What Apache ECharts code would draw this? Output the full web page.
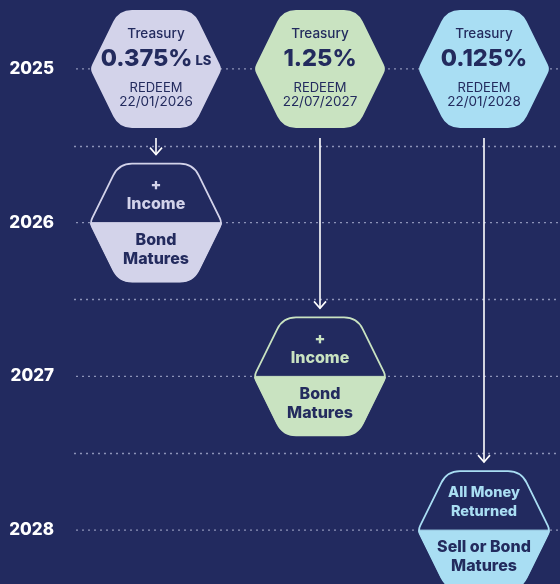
<!DOCTYPE html>
<html>
<head>
<meta charset="utf-8">
<script src="https://cdn.jsdelivr.net/npm/echarts@6/dist/echarts.min.js"></script>
<style>
html, body { margin: 0; padding: 0; background: #222a5f; }
#chart { width: 560px; height: 584px; }
</style>
</head>
<body>
<div id="chart"></div>
<script>
// timeline rows
var years = ['2025', '2026', '2027', '2028'];
var issueYear = '2025';
// one column per gilt
var issuer = ['Treasury', 'Treasury', 'Treasury'];
var rates = ['0.375%', '1.25%', '0.125%'];
var rateTags = ['LS', '', ''];
var redeemDates = ['22/01/2026', '22/07/2027', '22/01/2028'];
var maturityYears = ['2026', '2027', '2028'];
var outcomeTop = ['+\nIncome', '+\nIncome', 'All Money\nReturned'];
var outcomeBottom = ['Bond\nMatures', 'Bond\nMatures', 'Sell or Bond\nMatures'];

var bondColors = ['#d3d3ea', '#c9e3c1', '#a9def3'];
var NAVY = '#222a5f';
var INK = '#232b5e';
var FONT = 'Inter, "Noto Sans", sans-serif';

function toward(p, q, r) {
    var dx = q[0] - p[0], dy = q[1] - p[1];
    var len = Math.sqrt(dx * dx + dy * dy);
    return [p[0] + dx / len * r, p[1] + dy / len * r];
}

function roundPath(pts, radii) {
    var n = pts.length, d = '';
    for (var i = 0; i < n; i++) {
        var p = pts[i], prev = pts[(i + n - 1) % n], next = pts[(i + 1) % n];
        var a = toward(p, prev, radii[i]), b = toward(p, next, radii[i]);
        d += (i === 0 ? 'M' : 'L') + a[0] + ' ' + a[1] + ' Q' + p[0] + ' ' + p[1] + ' ' + b[0] + ' ' + b[1] + ' ';
    }
    return d + 'Z';
}

function hexPts(cx, cy) {
    return [[cx - 66, cy], [cx - 37, cy - 59], [cx + 37, cy - 59],
            [cx + 66, cy], [cx + 37, cy + 59], [cx - 37, cy + 59]];
}

function txt(x, y, text, fill, size, weight, lh) {
    return {
        type: 'text', x: x, y: y,
        style: {
            text: text, fill: fill, fontSize: size, fontWeight: weight, fontFamily: FONT,
            lineHeight: lh || size + 2, align: 'center', verticalAlign: 'middle'
        }
    };
}

function renderIssue(params, api) {
    var i = api.value(0);
    var c = api.coord([i, api.value(1)]);
    var cx = c[0], cy = c[1];
    var col = bondColors[i];
    var tag = rateTags[i] ? '{s| ' + rateTags[i] + '}' : '';
    return {
        type: 'group',
        children: [
            { type: 'path', shape: { pathData: roundPath(hexPts(cx, cy), [5, 13, 13, 5, 13, 13]) },
              style: { fill: col } },
            txt(cx, cy - 35, issuer[i], INK, 13.5, 500),
            {
                type: 'text', x: cx, y: cy - 10,
                style: {
                    text: '{p|' + rates[i] + '}' + tag,
                    align: 'center', verticalAlign: 'middle',
                    rich: {
                        p: { fontSize: 23.5, fontWeight: 800, fontFamily: FONT, fill: INK },
                        s: { fontSize: 13, fontWeight: 800, fontFamily: FONT, fill: INK, padding: [5, 0, 0, 0] }
                    }
                }
            },
            txt(cx, cy + 19, 'REDEEM', INK, 13, 400),
            txt(cx, cy + 33, redeemDates[i], INK, 13.5, 400)
        ]
    };
}

function renderMaturity(params, api) {
    var i = api.value(0);
    var c = api.coord([i, api.value(1)]);
    var cx = c[0], cy = c[1];
    var col = bondColors[i];
    var half = [[cx - 66, cy], [cx + 66, cy], [cx + 37, cy + 59], [cx - 37, cy + 59]];
    var topSize = outcomeTop[i].length > 10 ? 14.5 : 16;
    return {
        type: 'group',
        children: [
            { type: 'path', shape: { pathData: roundPath(hexPts(cx, cy), [5, 13, 13, 5, 13, 13]) },
              style: { fill: NAVY, stroke: col, lineWidth: 1.8 } },
            { type: 'path', shape: { pathData: roundPath(half, [2, 2, 13, 13]) },
              style: { fill: col, stroke: col, lineWidth: 1 } },
            txt(cx, cy - 28, outcomeTop[i], col, topSize, 800, 19),
            txt(cx, cy + 27, outcomeBottom[i], INK, 16, 800, 19)
        ]
    };
}

function renderArrow(params, api) {
    var i = api.value(0);
    var a = api.coord([i, api.value(1)]);
    var b = api.coord([i, api.value(2)]);
    var x = a[0], y1 = a[1] + 69, y2 = b[1] - 68;
    var st = { stroke: '#ffffff', lineWidth: 1.6, fill: 'none' };
    return {
        type: 'group',
        children: [
            { type: 'line', shape: { x1: x, y1: y1, x2: x, y2: y2 }, style: st },
            { type: 'polyline', shape: { points: [[x - 6, y2 - 7], [x, y2], [x + 6, y2 - 7]] }, style: st }
        ]
    };
}

function renderRowLine(params, api) {
    var cs = params.coordSys;
    var y = api.coord([0, api.value(1)])[1];
    return {
        type: 'line',
        shape: { x1: cs.x + 2, y1: y, x2: cs.x + cs.width + 10, y2: y },
        style: { stroke: '#8d93b8', lineWidth: 1.3, lineDash: [2, 4] }
    };
}

var yi = function (y) { return years.indexOf(y); };
var chart = echarts.init(document.getElementById('chart'));
chart.setOption({
    backgroundColor: NAVY,
    animation: false,
    grid: { left: 74, right: -6, top: -8, bottom: -23, outerBoundsMode: 'none' },
    xAxis: { type: 'category', data: rates, show: false },
    yAxis: {
        type: 'category', data: years, inverse: true,
        axisLine: { show: false }, axisTick: { show: false },
        axisLabel: { color: '#ffffff', fontSize: 17, fontWeight: 800, fontFamily: FONT, margin: 20 },
        splitLine: { show: true, interval: 0, lineStyle: { color: '#8d93b8', width: 1.3, type: [2, 4] } }
    },
    series: [
        { type: 'custom', name: 'rows', z: 1, renderItem: renderRowLine,
          data: years.map(function (y, k) { return [0, k]; }) },
        { type: 'custom', name: 'arrows', z: 2, renderItem: renderArrow,
          data: rates.map(function (r, i) { return [i, yi(issueYear), yi(maturityYears[i])]; }) },
        { type: 'custom', name: 'issue', z: 3, renderItem: renderIssue,
          data: rates.map(function (r, i) { return [i, yi(issueYear)]; }) },
        { type: 'custom', name: 'maturity', z: 3, renderItem: renderMaturity,
          data: rates.map(function (r, i) { return [i, yi(maturityYears[i])]; }) }
    ]
});
</script>
</body>
</html>
